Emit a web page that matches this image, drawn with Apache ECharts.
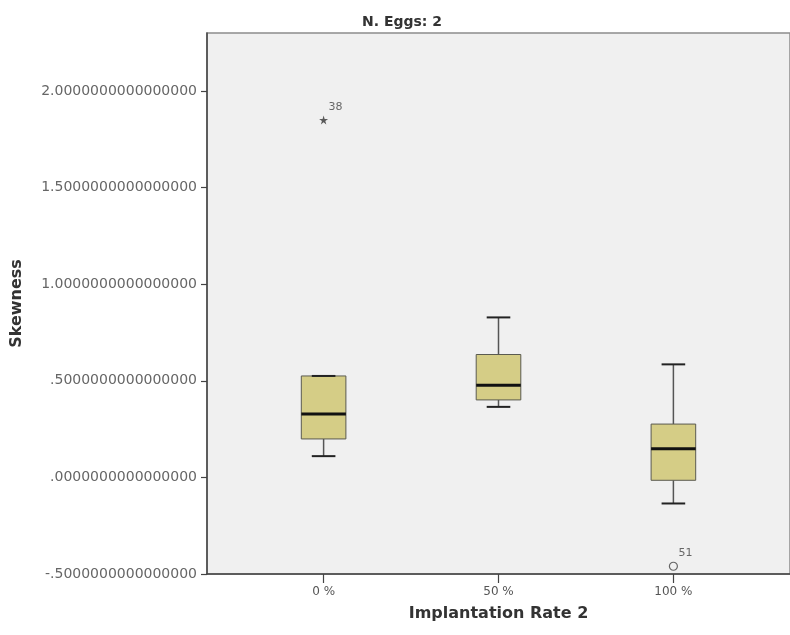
<!DOCTYPE html>
<html>
<head>
<meta charset="utf-8">
<title>Skewness - N. Eggs: 2</title>
<script src="https://cdn.jsdelivr.net/npm/echarts@6/dist/echarts.min.js"></script>
<style>html,body{margin:0;padding:0;background:#fff;}</style>
</head>
<body>
<div id="main" style="width:790px;height:635px;"></div>
<script type="text/javascript">
// categories on the x axis
var categories = ['0 %', '50 %', '100 %'];
// box statistics for each category
var whiskerLow = [0.11, 0.365, -0.135];
var q1 = [0.199, 0.401, -0.015];
var medians = [0.328, 0.477, 0.148];
var q3 = [0.525, 0.636, 0.276];
var whiskerHigh = [0.525, 0.828, 0.585];
// extreme (*) and outlier (o) cases: category index, value, case number
var extremes = [[0, 1.85, '38']];
var outliers = [[2, -0.46, '51']];
// y axis tick values
var yTicks = [-0.5, 0, 0.5, 1, 1.5, 2];

var boxData = [];
for (var i = 0; i < categories.length; i++) {
    boxData.push([i, whiskerLow[i], q1[i], medians[i], q3[i], whiskerHigh[i]]);
}
var catTicks = categories.map(function (c, i) { return i; });

// draws one SPSS style box: whiskers with short caps, box, thick median
function renderBox(params, api) {
    var x = api.value(0);
    var pLo = api.coord([x, api.value(1)]);
    var pQ1 = api.coord([x, api.value(2)]);
    var pMed = api.coord([x, api.value(3)]);
    var pQ3 = api.coord([x, api.value(4)]);
    var pHi = api.coord([x, api.value(5)]);
    var band = api.size([1, 0])[0];
    var boxW = band * 0.255;
    var capW = band * 0.135;
    var cx = pLo[0];
    return {
        type: 'group',
        children: [
            { type: 'line', shape: { x1: cx, y1: pQ1[1], x2: cx, y2: pLo[1] },
              style: { stroke: '#555', lineWidth: 1.5 } },
            { type: 'line', shape: { x1: cx, y1: pQ3[1], x2: cx, y2: pHi[1] },
              style: { stroke: '#555', lineWidth: 1.5 } },
            { type: 'rect', shape: { x: cx - boxW / 2, y: pQ3[1], width: boxW, height: pQ1[1] - pQ3[1] },
              style: { fill: '#d5cd86', stroke: '#5a5a50', lineWidth: 1 } },
            { type: 'line', shape: { x1: cx - capW / 2, y1: pLo[1], x2: cx + capW / 2, y2: pLo[1] },
              style: { stroke: '#222', lineWidth: 2 } },
            { type: 'line', shape: { x1: cx - capW / 2, y1: pHi[1], x2: cx + capW / 2, y2: pHi[1] },
              style: { stroke: '#222', lineWidth: 2 } },
            { type: 'line', shape: { x1: cx - boxW / 2, y1: pMed[1], x2: cx + boxW / 2, y2: pMed[1] },
              style: { stroke: '#111', lineWidth: 3 } }
        ]
    };
}

var myChart = echarts.init(document.getElementById('main'));
var option = {
    animation: false,
    textStyle: { fontFamily: 'DejaVu Sans' },
    title: {
        text: 'N. Eggs: 2',
        left: 357,
        top: 10,
        textStyle: { fontSize: 14, fontWeight: 'bold', color: '#333' }
    },
    grid: {
        left: 207, top: 33, right: -7, bottom: 61,
        show: true,
        backgroundColor: '#f0f0f0',
        borderColor: '#8c8c8c',
        borderWidth: 1.5
    },
    xAxis: {
        type: 'value',
        min: -0.6667,
        max: 2.6667,
        name: 'Implantation Rate 2',
        nameLocation: 'middle',
        nameGap: 32,
        nameTextStyle: { fontSize: 16, fontWeight: 'bold', color: '#333' },
        axisLine: { onZero: false, lineStyle: { color: '#444', width: 1.5 } },
        axisTick: { customValues: catTicks, length: 9, lineStyle: { color: '#444', width: 1.2 } },
        axisLabel: {
            customValues: catTicks,
            margin: 12,
            fontSize: 12,
            color: '#555',
            formatter: function (v) { return categories[Math.round(v)]; }
        },
        splitLine: { show: false }
    },
    yAxis: {
        type: 'value',
        min: -0.5,
        max: 2.3,
        name: 'Skewness',
        nameLocation: 'middle',
        nameGap: 182,
        nameTextStyle: { fontSize: 16, fontWeight: 'bold', color: '#333' },
        axisLine: { show: true, onZero: false, lineStyle: { color: '#444', width: 1.5 } },
        axisTick: { show: true, customValues: yTicks, length: 6, lineStyle: { color: '#444', width: 1.2 } },
        axisLabel: {
            customValues: yTicks,
            margin: 10,
            fontSize: 14,
            color: '#666',
            formatter: function (v) {
                return v.toFixed(16).replace(/^(-?)0\./, '$1.');
            }
        },
        splitLine: { show: false }
    },
    series: [
        {
            type: 'custom',
            renderItem: renderBox,
            encode: { x: 0, y: [1, 2, 3, 4, 5] },
            data: boxData,
            z: 2
        },
        {
            type: 'scatter',
            data: extremes,
            symbol: 'path://M50,0 L61,35 L98,35 L68,57 L79,91 L50,70 L21,91 L32,57 L2,35 L39,35 Z',
            symbolSize: 9,
            itemStyle: { color: '#333' },
            label: {
                show: true, position: 'top', distance: 3, offset: [12, 0],
                fontSize: 11, color: '#444',
                formatter: function (p) { return p.value[2]; }
            },
            z: 3
        },
        {
            type: 'scatter',
            data: outliers,
            symbol: 'circle',
            symbolSize: 8,
            itemStyle: { color: '#f0f0f0', borderColor: '#444', borderWidth: 1.2 },
            label: {
                show: true, position: 'top', distance: 3, offset: [12, 0],
                fontSize: 11, color: '#444',
                formatter: function (p) { return p.value[2]; }
            },
            z: 3
        }
    ]
};
myChart.setOption(option);
</script>
</body>
</html>
